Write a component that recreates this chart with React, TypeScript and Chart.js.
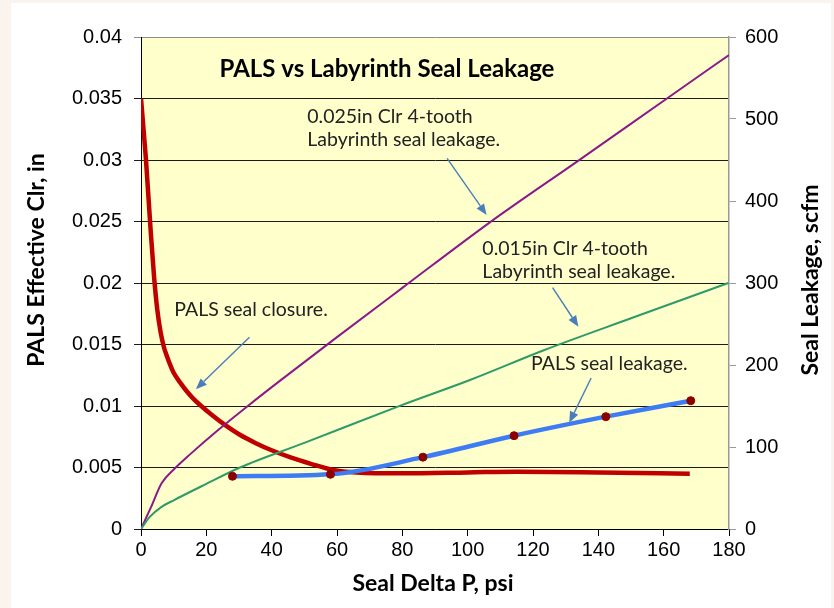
import { useEffect, useRef } from "react";
import { Chart, registerables } from "chart.js";

Chart.register(...registerables);

// ---- Data ----
// PALS seal closure (left axis, in) vs Seal Delta P (psi)
const closurePsi = [0, 1.5, 3, 4, 5, 6, 7, 8, 9, 10, 12, 14, 16, 18, 22, 26, 30, 35, 40, 46, 52, 58.8, 66, 80, 100, 115, 140, 168];
const closureClr = [0.035, 0.0301, 0.0241, 0.0205, 0.0178, 0.016, 0.0148, 0.014, 0.0133, 0.0127, 0.0119, 0.0112, 0.0106, 0.0101, 0.0092, 0.0084, 0.0077, 0.007, 0.0064, 0.0058, 0.0053, 0.0048, 0.0046, 0.00453, 0.0046, 0.00466, 0.0046, 0.0045];

// PALS seal leakage (right axis, scfm)
const palsPsi = [28, 58, 86.3, 114.2, 142.3, 168.3];
const palsLeak = [64.3, 66.7, 87.6, 113.8, 137.0, 156.5];

// 0.025in Clr 4-tooth labyrinth leakage (right axis, scfm)
const lab25Psi = [0, 3, 6.3, 10.4, 15, 23.7, 33, 42.3, 60, 80, 106.8, 133.8, 161, 180];
const lab25Leak = [0, 26, 55.7, 74, 91, 121, 151, 180, 234, 294, 374, 449, 525, 578];

// 0.015in Clr 4-tooth labyrinth leakage (right axis, scfm)
const lab15Psi = [0, 2.75, 6.3, 10, 20, 30.3, 50, 79.8, 100.9, 123.3, 150, 179.8];
const lab15Leak = [0, 15, 27, 35, 55, 75, 105, 151, 182, 218, 257, 300];

// Axis ranges / ticks
const xRange = [0, 180];
const xStep = 20;
const leftRange = [0, 0.04];
const leftStep = 0.005;
const rightRange = [0, 600];
const rightStep = 100;

// Texts
const chartTitle = "PALS vs Labyrinth Seal Leakage";
const xTitle = "Seal Delta P, psi";
const leftTitle = "PALS Effective Clr, in";
const rightTitle = "Seal Leakage, scfm";

// Annotations placed in data coordinates (x: psi, y: left axis)
const noteTexts = [
  { lines: ["0.025in Clr 4-tooth", "Labyrinth seal leakage."], x: 50.9, y: [0.03352, 0.03168] },
  { lines: ["0.015in Clr 4-tooth", "Labyrinth seal leakage."], x: 104.5, y: [0.02282, 0.02092] },
  { lines: ["PALS seal closure."], x: 10.2, y: [0.0178] },
  { lines: ["PALS seal leakage."], x: 119.4, y: [0.01341] },
];
const noteArrows = [
  { from: [93.7, 0.03014], to: [105.8, 0.02553] },
  { from: [126.0, 0.01962], to: [133.9, 0.01645] },
  { from: [33.2, 0.01559], to: [16.8, 0.01136] },
  { from: [137.8, 0.01228], to: [131.1, 0.00864] },
];

const pts = (xs: number[], ys: number[]) => xs.map((x, i) => ({ x, y: ys[i] }));

const TICK_FONT = '"Liberation Sans", Arial, sans-serif';
const TEXT_FONT = 'Lato, "Open Sans", sans-serif';

export default function App() {
  const ref = useRef<HTMLCanvasElement>(null);

  useEffect(() => {
    const canvas = ref.current!;

    const plotBg = {
      id: "plotBg",
      beforeDraw(chart: any) {
        const { ctx, chartArea: a } = chart;
        ctx.save();
        ctx.fillStyle = "#ffffcc";
        ctx.fillRect(a.left, a.top, a.right - a.left, a.bottom - a.top);
        ctx.restore();
      },
    };

    const notes = {
      id: "notes",
      afterDatasetsDraw(chart: any) {
        const { ctx } = chart;
        const sx = chart.scales.x;
        const sy = chart.scales.y;
        ctx.save();
        // chart title
        ctx.fillStyle = "#000";
        ctx.font = `bold 24px ${TEXT_FONT}`;
        ctx.textAlign = "center";
        ctx.textBaseline = "middle";
        ctx.fillText(chartTitle, sx.getPixelForValue(75.3), sy.getPixelForValue(0.0374));

        // annotation texts
        ctx.font = `19.5px ${TEXT_FONT}`;
        ctx.fillStyle = "#222";
        ctx.textAlign = "left";
        noteTexts.forEach((n) => {
          n.lines.forEach((line, i) => {
            ctx.fillText(line, sx.getPixelForValue(n.x), sy.getPixelForValue(n.y[i]));
          });
        });

        // arrows
        ctx.strokeStyle = "#4a7ebb";
        ctx.fillStyle = "#4a7ebb";
        ctx.lineWidth = 1.4;
        noteArrows.forEach((a) => {
          const x1 = sx.getPixelForValue(a.from[0]);
          const y1 = sy.getPixelForValue(a.from[1]);
          const x2 = sx.getPixelForValue(a.to[0]);
          const y2 = sy.getPixelForValue(a.to[1]);
          const ang = Math.atan2(y2 - y1, x2 - x1);
          const len = 11;
          const half = 4.5;
          const bx = x2 - len * Math.cos(ang);
          const by = y2 - len * Math.sin(ang);
          ctx.beginPath();
          ctx.moveTo(x1, y1);
          ctx.lineTo(bx, by);
          ctx.stroke();
          ctx.beginPath();
          ctx.moveTo(x2, y2);
          ctx.lineTo(bx + half * Math.sin(ang), by - half * Math.cos(ang));
          ctx.lineTo(bx - half * Math.sin(ang), by + half * Math.cos(ang));
          ctx.closePath();
          ctx.fill();
        });

        // axis titles
        ctx.fillStyle = "#000";
        ctx.font = `bold 23px ${TEXT_FONT}`;
        ctx.textAlign = "center";
        ctx.textBaseline = "middle";
        ctx.fillText(xTitle, 433, 584);
        ctx.save();
        ctx.translate(37, 260);
        ctx.rotate(-Math.PI / 2);
        ctx.fillText(leftTitle, 0, 0);
        ctx.restore();
        ctx.save();
        ctx.translate(811, 280);
        ctx.rotate(-Math.PI / 2);
        ctx.fillText(rightTitle, 0, 0);
        ctx.restore();
        ctx.restore();
      },
    };

    const chart = new Chart(canvas, {
      type: "line",
      data: {
        datasets: [
          {
            label: "PALS seal leakage",
            data: pts(palsPsi, palsLeak),
            yAxisID: "y1",
            borderColor: "#3d7cf2",
            borderWidth: 4.5,
            pointRadius: 4,
            pointBorderWidth: 1,
            pointBackgroundColor: "#8b0000",
            pointBorderColor: "#8b0000",
            cubicInterpolationMode: "monotone",
          },
          {
            label: "0.015in Clr",
            data: pts(lab15Psi, lab15Leak),
            yAxisID: "y1",
            borderColor: "#2f9a68",
            borderWidth: 2,
            pointRadius: 0,
            cubicInterpolationMode: "monotone",
          },
          {
            label: "0.025in Clr",
            data: pts(lab25Psi, lab25Leak),
            yAxisID: "y1",
            borderColor: "#8a1a8a",
            borderWidth: 2,
            pointRadius: 0,
            cubicInterpolationMode: "monotone",
          },
          {
            label: "PALS seal closure",
            data: pts(closurePsi, closureClr),
            yAxisID: "y",
            borderColor: "#c00000",
            borderWidth: 4.5,
            pointRadius: 0,
            cubicInterpolationMode: "monotone",
          },
        ],
      },
      options: {
        animation: false,
        responsive: false,
        maintainAspectRatio: false,
        layout: { padding: { top: 37, left: 0, right: 0, bottom: 0 } },
        plugins: { legend: { display: false }, tooltip: { enabled: false }, title: { display: false } },
        scales: {
          x: {
            type: "linear",
            min: xRange[0],
            max: xRange[1],
            ticks: { stepSize: xStep, color: "#000", font: { family: TICK_FONT, size: 20 }, padding: 2, maxRotation: 0 },
            grid: { drawOnChartArea: false, drawTicks: true, tickLength: 7, color: "#000" },
            border: { color: "#000", width: 1 },
            afterFit(s: any) {
              s.height = 79;
            },
          },
          y: {
            type: "linear",
            position: "left",
            min: leftRange[0],
            max: leftRange[1],
            ticks: {
              stepSize: leftStep,
              color: "#000",
              font: { family: TICK_FONT, size: 20 },
              padding: 12,
              callback: (v: any) => String(Number(Number(v).toFixed(3))),
            },
            grid: {
              drawTicks: true,
              tickLength: 7,
              color: (c: any) => (c.tick && c.tick.value > 0.0399 ? "#8c8c8c" : "#1a1a1a"),
            },
            border: { color: "#000", width: 1 },
            afterFit(s: any) {
              s.width = 141;
            },
          },
          y1: {
            type: "linear",
            position: "right",
            min: rightRange[0],
            max: rightRange[1],
            ticks: { stepSize: rightStep, color: "#000", font: { family: TICK_FONT, size: 20 }, padding: 9 },
            grid: { drawOnChartArea: false, drawTicks: true, tickLength: 7, color: "#999" },
            border: { color: "#999", width: 1.5 },
            afterFit(s: any) {
              s.width = 105;
            },
          },
        },
      },
      plugins: [plotBg, notes],
    } as any);

    return () => chart.destroy();
  }, []);

  return (
    <div
      style={{
        position: "fixed",
        left: 0,
        top: 0,
        width: 834,
        height: 608,
        background: "#fbf4ee",
        overflow: "hidden",
      }}
    >
      <div style={{ position: "absolute", left: 11, top: 3, width: 820, height: 605, background: "#ffffff" }} />
      <canvas
        ref={ref}
        width={834}
        height={608}
        style={{ position: "absolute", left: 0, top: 0, width: 834, height: 608 }}
      />
    </div>
  );
}
